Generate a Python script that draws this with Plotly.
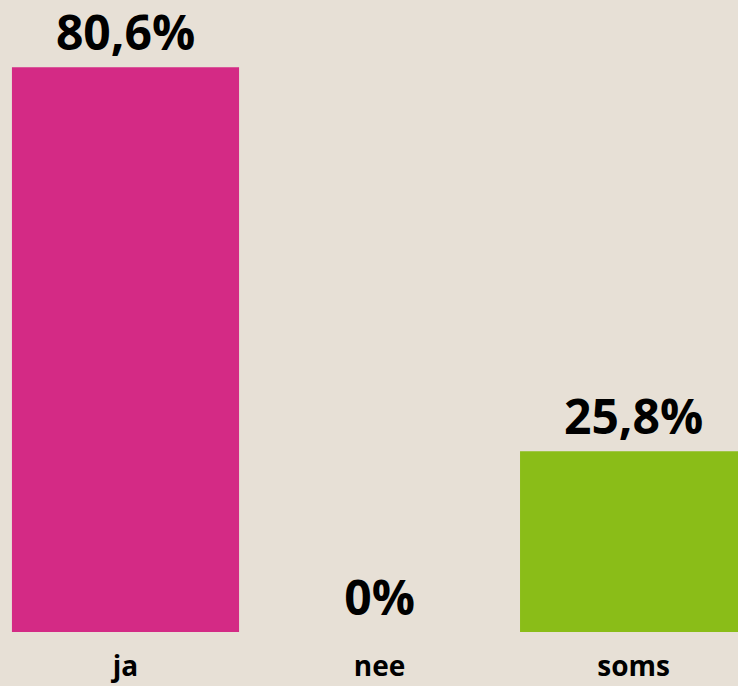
import plotly.graph_objects as go

categories = ["ja", "nee", "soms"]
values = [80.6, 0, 25.8]
labels = ["80,6%", "0%", "25,8%"]
colors = ["#D42A85", "#D42A85", "#8ABD18"]

fig = go.Figure(go.Bar(
    x=categories, y=values, text=labels, textposition="outside",
    marker=dict(color=colors, line=dict(width=0)),
    width=0.894, cliponaxis=False,
    textfont=dict(family="Open Sans", size=48, color="black", weight="bold"),
))
fig.update_layout(
    width=738, height=686,
    margin=dict(l=0, r=0, t=0, b=54),
    paper_bgcolor="#E7E0D6", plot_bgcolor="#E7E0D6",
    showlegend=False,
    uniformtext=dict(mode=False),
    xaxis=dict(range=[-0.494, 2.411], showgrid=False, zeroline=False, showline=False,
               ticks="", ticklabelstandoff=15,
               tickfont=dict(family="Open Sans", size=28, color="black", weight="bold")),
    yaxis=dict(range=[0, 90.2], visible=False, showgrid=False, zeroline=False),
)
fig.write_html("out.html", config={"displayModeBar": False},
               post_script="document.body.style.margin='0';document.body.style.background='#E7E0D6';")
